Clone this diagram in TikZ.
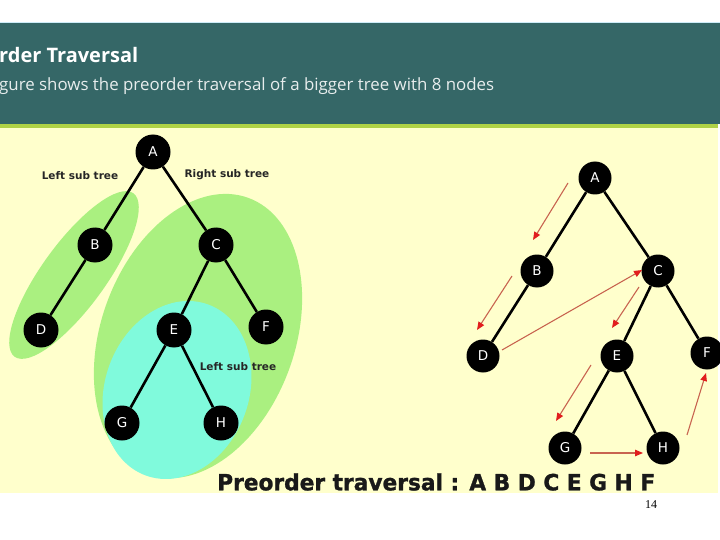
\documentclass[tikz,border=0pt]{standalone}
\usepackage{fontspec}
\usepackage{graphicx}
\setmainfont{Liberation Serif}
\newfontfamily\vfont{DejaVu Sans}
\newfontfamily\vheavy{DejaVu Sans Bold}[FakeBold=1.2]
\newfontfamily\ofont{Open Sans}
\usetikzlibrary{arrows.meta}
\definecolor{banner}{RGB}{53,103,103}
\definecolor{bgyellow}{RGB}{255,255,204}
\definecolor{limeband}{RGB}{176,210,70}
\definecolor{ellgreen}{RGB}{170,240,128}
\definecolor{ellcyan}{RGB}{128,250,220}
\definecolor{arrline}{RGB}{200,100,80}
\definecolor{arrhead}{RGB}{225,30,30}
\tikzset{
  tnode/.style={circle,fill=black,minimum size=35pt,inner sep=0pt,text=white,font=\vfont\fontsize{13.5}{14}\selectfont},
  tedge/.style={line width=2.6pt,black},
  sublabel/.style={font=\vfont\bfseries\fontsize{10.5}{11}\selectfont,text=black!85,inner sep=0pt},
  travarrow/.style={arrline,line width=1.1pt,-{Triangle[length=8pt,width=6.5pt,color=arrhead]}}
}
\begin{document}
\begin{tikzpicture}[x=1pt,y=-1pt]
\clip (0,0) rectangle (720,540);
\useasboundingbox (0,0) rectangle (720,540);
\fill[white] (0,0) rectangle (720,540);
% banner
\fill[banner] (0,23) rectangle (720,124);
\fill[black!10!cyan!20] (0,22) rectangle (720,23.5);
\fill[limeband] (0,124) rectangle (718,128);
\fill[bgyellow] (0,128) rectangle (718,493);
\node[anchor=west,inner sep=0pt,text=white] (title) at (-1,55)
  {\resizebox{139pt}{!}{\ofont\bfseries\fontsize{17}{17}\selectfont rder Traversal}};
\node[anchor=west,inner sep=0pt,text=white!88!banner] (subtitle) at (-1,86)
  {\resizebox{495pt}{!}{\ofont\fontsize{15}{15}\selectfont gure shows the preorder traversal of a bigger tree with 8 nodes}};
% ellipses
\fill[ellgreen,rotate around={54:(74,275)}] (74,275) ellipse [x radius=101pt,y radius=32pt];
\fill[ellgreen,rotate around={-20:(198,336)}] (198,336) ellipse [x radius=97pt,y radius=147pt];
\fill[ellcyan,rotate around={-20:(177,390)}] (177,390) ellipse [x radius=72pt,y radius=91pt];
% left tree
\node[tnode] (lA) at (153,152) {A};
\node[tnode] (lB) at (95,245) {B};
\node[tnode] (lC) at (216,245) {C};
\node[tnode] (lD) at (41,330) {D};
\node[tnode] (lE) at (174,330) {E};
\node[tnode] (lF) at (266,327) {F};
\node[tnode] (lG) at (122,423) {G};
\node[tnode] (lH) at (221,423) {H};
\draw[tedge] (lA) -- (lB);
\draw[tedge] (lA) -- (lC);
\draw[tedge] (lB) -- (lD);
\draw[tedge] (lC) -- (lE);
\draw[tedge] (lC) -- (lF);
\draw[tedge] (lE) -- (lG);
\draw[tedge] (lE) -- (lH);
\node[sublabel] (lab1) at (80,176) {Left sub tree};
\node[sublabel] (lab2) at (227,175) {Right sub tree};
\node[sublabel] (lab3) at (238,367) {Left sub tree};
% right tree
\node[tnode,minimum size=33pt] (rA) at (595,178) {A};
\node[tnode,minimum size=33pt] (rB) at (537,271) {B};
\node[tnode,minimum size=33pt] (rC) at (658,271) {C};
\node[tnode,minimum size=33pt] (rD) at (483,356) {D};
\node[tnode,minimum size=33pt] (rE) at (617,356) {E};
\node[tnode,minimum size=33pt] (rF) at (707,353) {F};
\node[tnode,minimum size=33pt] (rG) at (565,448) {G};
\node[tnode,minimum size=33pt] (rH) at (663,448) {H};
\draw[tedge] (rA) -- (rB);
\draw[tedge] (rA) -- (rC);
\draw[tedge] (rB) -- (rD);
\draw[tedge] (rC) -- (rE);
\draw[tedge] (rC) -- (rF);
\draw[tedge] (rE) -- (rG);
\draw[tedge] (rE) -- (rH);
% traversal arrows
\coordinate (p1s) at (568,183); \coordinate (p1e) at (533,240);
\coordinate (p2s) at (512,276); \coordinate (p2e) at (477,330);
\coordinate (p3s) at (502,350); \coordinate (p3e) at (642,270);
\coordinate (p4s) at (639,287); \coordinate (p4e) at (612,328);
\coordinate (p5s) at (591,365); \coordinate (p5e) at (556,421);
\coordinate (p6s) at (590,453); \coordinate (p6e) at (643,453);
\coordinate (p7s) at (687,435); \coordinate (p7e) at (706,373);
\draw[travarrow] (p1s) -- (p1e);
\draw[travarrow] (p2s) -- (p2e);
\draw[travarrow] (p3s) -- (p3e);
\draw[travarrow] (p4s) -- (p4e);
\draw[travarrow] (p5s) -- (p5e);
\draw[travarrow] (p6s) -- (p6e);
\draw[travarrow] (p7s) -- (p7e);
% result text
\node[anchor=west,inner sep=0pt,text=black!90] (result) at (217,482)
  {\resizebox{438pt}{17pt}{\vheavy\fontsize{21}{21}\selectfont Preorder traversal : A B D C E G H F}};
\node[inner sep=0pt,font=\fontsize{12}{12}\selectfont] (pagenum) at (651,505) {14};
\end{tikzpicture}
\end{document}
